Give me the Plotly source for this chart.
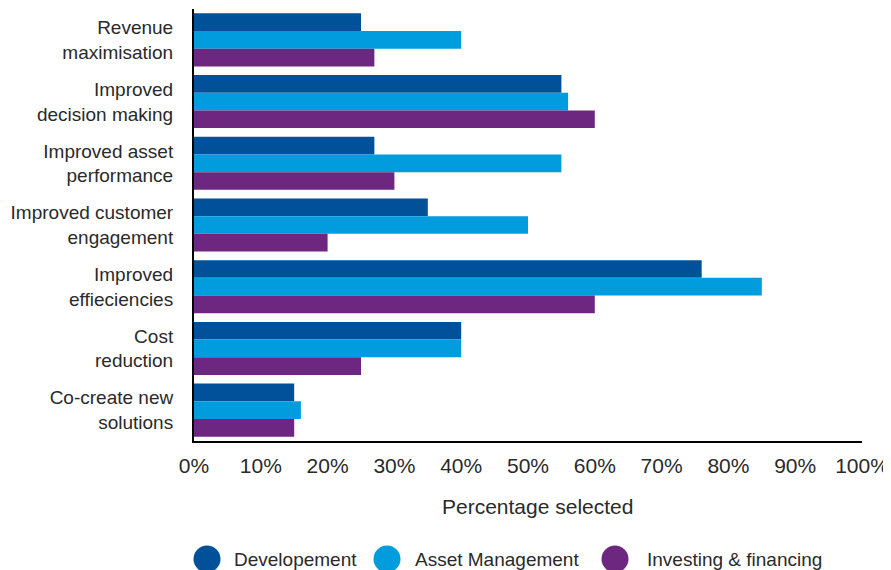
import plotly.graph_objects as go

categories = [
    "Revenue<br>maximisation",
    "Improved<br>decision making",
    "Improved asset<br>performance",
    "Improved customer<br>engagement",
    "Improved<br>effieciencies",
    "Cost<br>reduction",
    "Co-create new<br>solutions",
]
series_names = ["Developement", "Asset Management", "Investing & financing"]
developement = [25, 55, 27, 35, 76, 40, 15]
asset_management = [40, 56, 55, 50, 85, 40, 16]
investing_financing = [27, 60, 30, 20, 60, 25, 15]
series_values = [developement, asset_management, investing_financing]
colors = ["#00509A", "#009CDE", "#6E2780"]
x_tick_values = [0, 10, 20, 30, 40, 50, 60, 70, 80, 90, 100]
x_tick_labels = [f"{v}%" for v in x_tick_values]
x_title = "Percentage selected"

FONT = "Liberation Sans"
TXT = "#2a2a2a"

# page has an 8px body margin; work in figure coordinates
OFF = 8
W, H = 891 - OFF, 570 - OFF
X0, X1 = 194 - OFF, 862 - OFF      # plot area left/right
Y0, Y1 = 9 - OFF, 441 - OFF        # plot area top/bottom


def px(x):
    return (x - OFF - X0) / (X1 - X0)


def py(y):
    return (Y1 - (y - OFF)) / (Y1 - Y0)


fig = go.Figure()
for name, vals, col in zip(series_names, series_values, colors):
    fig.add_trace(go.Bar(
        y=categories, x=vals, name=name, orientation="h",
        marker=dict(color=col, line=dict(width=0)),
        showlegend=False,
    ))

# custom legend with large circles
legend_circle_x = [207, 387, 615]
legend_text_x = [232, 413, 645]
legend_y = 559
for name, col, cx, tx in zip(series_names, colors, legend_circle_x, legend_text_x):
    fig.add_shape(type="circle", xref="paper", yref="paper",
                  xsizemode="pixel", ysizemode="pixel",
                  xanchor=px(cx), yanchor=py(legend_y),
                  x0=-13.5, x1=13.5, y0=-13.5, y1=13.5,
                  fillcolor=col, line=dict(width=0))
    fig.add_annotation(text=name, xref="paper", yref="paper",
                       x=px(tx), y=py(legend_y),
                       xanchor="left", yanchor="middle", showarrow=False,
                       font=dict(family=FONT, size=19, color=TXT))

# x-axis title
fig.add_annotation(text=x_title, xref="paper", yref="paper",
                   x=px(537), y=py(506), xanchor="center", yanchor="middle",
                   showarrow=False, font=dict(family=FONT, size=21, color=TXT))

fig.update_layout(
    width=W, height=H,
    margin=dict(l=X0, r=W - X1, t=Y0, b=H - Y1),
    paper_bgcolor="white", plot_bgcolor="white",
    barmode="group", bargap=0.14, bargroupgap=0,
    font=dict(family=FONT, color=TXT),
)
fig.update_yaxes(
    autorange="reversed", showgrid=False, zeroline=False,
    showline=True, linecolor="black", linewidth=2,
    ticks="", ticklabelstandoff=15,
    tickfont=dict(family=FONT, size=19, color=TXT),
)
fig.update_xaxes(
    range=[0, 100], tickvals=x_tick_values, ticktext=x_tick_labels,
    showgrid=False, zeroline=False,
    showline=True, linecolor="black", linewidth=2,
    ticks="", ticklabelstandoff=5,
    tickfont=dict(family=FONT, size=21, color=TXT),
)

fig.write_html("out.html")
